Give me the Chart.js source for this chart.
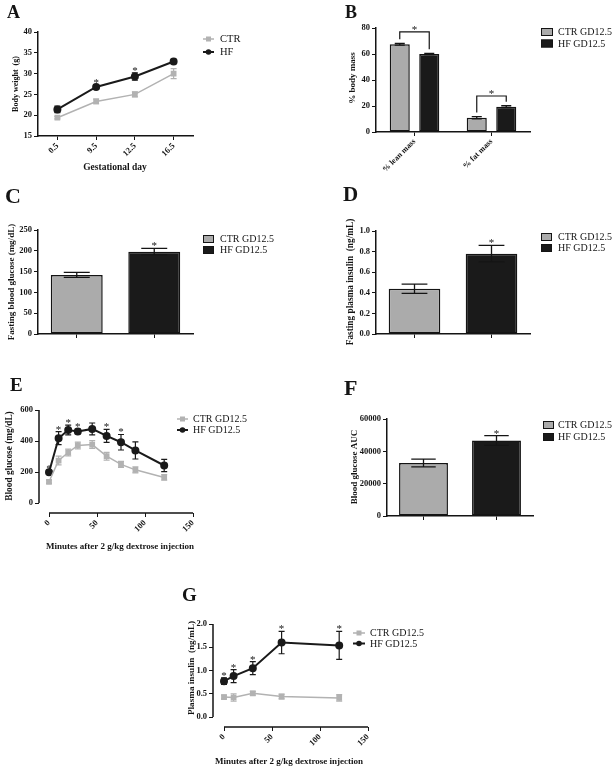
<!DOCTYPE html>
<html><head><meta charset="utf-8">
<script src="https://cdn.jsdelivr.net/npm/chart.js@4.4.1/dist/chart.umd.min.js"></script>
<style>
html,body{margin:0;padding:0;background:#fff}
body{width:616px;height:771px;overflow:hidden;position:relative}
canvas{position:absolute;left:0;top:0}
</style></head><body>
<canvas id="cA" width="616" height="771"></canvas>
<canvas id="cB" width="616" height="771"></canvas>
<canvas id="cC" width="616" height="771"></canvas>
<canvas id="cD" width="616" height="771"></canvas>
<canvas id="cE" width="616" height="771"></canvas>
<canvas id="cF" width="616" height="771"></canvas>
<canvas id="cG" width="616" height="771"></canvas>
<script>
// ---------- DATA ----------
// A: body weight
const gdDays = ['0.5', '9.5', '12.5', '16.5'];
const bwCTR = [19.4, 23.3, 25.0, 30.0];
const bwCTRerr = [0.3, 0.55, 0.6, 1.2];
const bwHF = [21.4, 26.8, 29.3, 32.9];
const bwHFerr = [0.8, 0.55, 0.9, 0.5];
const bwStars = [false, true, true, false];
// B: body composition
const compCats = ['% lean mass', '% fat mass'];
const compCTR = [67.5, 11.0];
const compCTRerr = [0.7, 0.9];
const compHF = [60.0, 19.5];
const compHFerr = [0.5, 0.7];
const compBracketY = [77, 27.7];
// groups for bar panels
const groups = ['CTR GD12.5', 'HF GD12.5'];
// C: fasting blood glucose
const fbgMean = [142, 198];
const fbgErr = [6, 8];
const fbgStars = [false, true];
// D: fasting plasma insulin
const fpiMean = [0.44, 0.78];
const fpiErr = [0.045, 0.08];
const fpiStars = [false, true];
// E: GTT
const gttMin = [0, 10, 20, 30, 45, 60, 75, 90, 120];
const gttCTR = [137, 274, 326, 371, 377, 302, 249, 214, 165];
const gttCTRerr = [10, 28, 22, 22, 25, 25, 20, 20, 18];
const gttHF = [199, 418, 471, 461, 478, 433, 392, 339, 242];
const gttHFerr = [10, 42, 32, 15, 38, 42, 50, 55, 40];
const gttStars = [true, true, true, true, false, true, true, false, false];
// F: AUC
const aucMean = [32800, 46700];
const aucErr = [2400, 3000];
const aucStars = [false, true];
// G: insulin during GTT
const insMin = [0, 10, 30, 60, 120];
const insCTR = [0.43, 0.42, 0.51, 0.44, 0.41];
const insCTRerr = [0.04, 0.08, 0.04, 0.05, 0.07];
const insHF = [0.77, 0.88, 1.05, 1.60, 1.54];
const insHFerr = [0.07, 0.14, 0.14, 0.24, 0.30];
const insStars = [true, true, true, true, true];
// tick values
const gttYTicks = [0, 200, 400, 600];
const minXTicks = [0, 50, 100, 150];
const insYTicks = [0, 0.5, 1.0, 1.5, 2.0];

// ---------- STYLE ----------
const SERIF = '"Liberation Serif","Times New Roman",serif';
const INK = '#141414';
const CTR_LINE = '#b2b2b2';
const CTR_BAR = '#ababab';
const HF_COL = '#1a1a1a';
const TICK_SIZE = 8.5;
Chart.defaults.font.family = SERIF;
Chart.defaults.color = INK;

const DECO = {};

function drawErr(chart, o) {
  const ctx = chart.ctx, ys = chart.scales.y;
  ctx.save();
  chart.data.datasets.forEach((ds, di) => {
    const errs = o.err[di]; if (!errs) return;
    const meta = chart.getDatasetMeta(di);
    meta.data.forEach((el, i) => {
      const raw = ds.data[i];
      const v = (raw !== null && typeof raw === 'object') ? raw.y : raw;
      if (v == null || errs[i] == null) return;
      const e = errs[i];
      const x = el.x, yt = ys.getPixelForValue(v + e), yb = ys.getPixelForValue(v - e);
      const cw = o.capFrac ? el.width * o.capFrac / 2 : o.cap;
      ctx.strokeStyle = o.errColor[di]; ctx.lineWidth = o.errWidth;
      ctx.beginPath();
      ctx.moveTo(x, yt); ctx.lineTo(x, yb);
      ctx.moveTo(x - cw, yt); ctx.lineTo(x + cw, yt);
      ctx.moveTo(x - cw, yb); ctx.lineTo(x + cw, yb);
      ctx.stroke();
    });
  });
  ctx.restore();
}
function drawStars(chart, o) {
  if (!o.stars) return;
  const ctx = chart.ctx, ys = chart.scales.y;
  ctx.save();
  ctx.fillStyle = INK; ctx.font = (o.starSize || 11) + 'px ' + SERIF;
  ctx.textAlign = 'center'; ctx.textBaseline = 'alphabetic';
  chart.data.datasets.forEach((ds, di) => {
    const st = o.stars[di]; if (!st) return;
    const meta = chart.getDatasetMeta(di);
    meta.data.forEach((el, i) => {
      if (!st[i]) return;
      const raw = ds.data[i];
      const v = (raw !== null && typeof raw === 'object') ? raw.y : raw;
      const e = o.err[di] ? o.err[di][i] : 0;
      const yt = ys.getPixelForValue(v + e);
      ctx.fillText('*', el.x, yt + (o.starDy || 1));
    });
  });
  ctx.restore();
}
const decoPlugin = {
  id: 'deco',
  beforeDatasetsDraw(chart) { const o = DECO[chart.canvas.id]; if (o && o.errBefore) drawErr(chart, o); },
  afterDatasetsDraw(chart) { const o = DECO[chart.canvas.id]; if (o && !o.errBefore) drawErr(chart, o); },
  afterDraw(chart) {
    const o = DECO[chart.canvas.id]; if (!o) return;
    const ctx = chart.ctx, ca = chart.chartArea, ys = chart.scales.y, xs = chart.scales.x;
    drawStars(chart, o);
    ctx.save();
    // offset axes
    if (o.axes) {
      const a = o.axes;
      ctx.strokeStyle = INK; ctx.lineWidth = 1.5;
      ctx.beginPath();
      ctx.moveTo(ca.left, ys.getPixelForValue(a.y1)); ctx.lineTo(ca.left, ys.getPixelForValue(a.y0));
      ctx.moveTo(xs.getPixelForValue(a.x0), ca.bottom); ctx.lineTo(xs.getPixelForValue(a.x1), ca.bottom);
      ctx.stroke();
    }
    // brackets
    if (o.brackets) {
      const m0 = chart.getDatasetMeta(0), m1 = chart.getDatasetMeta(1);
      ctx.strokeStyle = INK; ctx.lineWidth = 1.2; ctx.fillStyle = INK;
      o.brackets.forEach(b => {
        const x0 = m0.data[b.cat].x, x1 = m1.data[b.cat].x;
        const yl = ys.getPixelForValue(b.y);
        const d0 = chart.data.datasets[0].data[b.cat] + o.err[0][b.cat];
        const d1 = chart.data.datasets[1].data[b.cat] + o.err[1][b.cat];
        const y0 = ys.getPixelForValue(d0) - 4, y1 = ys.getPixelForValue(d1) - 4;
        ctx.beginPath();
        ctx.moveTo(x0, y0); ctx.lineTo(x0, yl); ctx.lineTo(x1, yl); ctx.lineTo(x1, y1);
        ctx.stroke();
        ctx.font = '11px ' + SERIF; ctx.textAlign = 'center'; ctx.textBaseline = 'alphabetic';
        ctx.fillText('*', (x0 + x1) / 2, yl + 1);
      });
    }
    // legend
    if (o.legend) {
      const L = o.legend;
      L.items.forEach((it, k) => {
        const y = L.y + k * L.dy;
        if (L.kind === 'box') {
          ctx.fillStyle = it.color; ctx.fillRect(L.x, y - L.h / 2, L.w, L.h);
          ctx.strokeStyle = INK; ctx.lineWidth = 1; ctx.strokeRect(L.x + 0.5, y - L.h / 2 + 0.5, L.w - 1, L.h - 1);
        } else {
          ctx.strokeStyle = it.color; ctx.lineWidth = it.lw;
          ctx.beginPath(); ctx.moveTo(L.x, y); ctx.lineTo(L.x + L.w, y); ctx.stroke();
          ctx.fillStyle = it.color;
          const cx = L.x + L.w / 2;
          if (it.shape === 'rect') ctx.fillRect(cx - 2.5, y - 2.5, 5, 5);
          else { ctx.beginPath(); ctx.arc(cx, y, 2.8, 0, Math.PI * 2); ctx.fill(); }
        }
        ctx.fillStyle = INK; ctx.font = L.size + 'px ' + SERIF;
        ctx.textAlign = 'left'; ctx.textBaseline = 'middle';
        ctx.fillText(it.text, L.tx, y + 0.5);
      });
    }
    // titles
    ctx.fillStyle = INK;
    if (o.ytitle) {
      const t = o.ytitle;
      ctx.save(); ctx.translate(t.x, t.y); ctx.rotate(-Math.PI / 2);
      ctx.font = 'bold ' + t.size + 'px ' + SERIF; ctx.textAlign = 'center'; ctx.textBaseline = 'middle';
      ctx.fillText(t.text, 0, 0); ctx.restore();
    }
    if (o.xtitle) {
      const t = o.xtitle;
      ctx.font = 'bold ' + t.size + 'px ' + SERIF; ctx.textAlign = 'center'; ctx.textBaseline = 'middle';
      ctx.fillText(t.text, t.x, t.y);
    }
    if (o.letter) {
      const t = o.letter;
      ctx.font = 'bold ' + t.size + 'px ' + SERIF; ctx.textAlign = 'left'; ctx.textBaseline = 'alphabetic';
      ctx.fillText(t.t, t.x, t.y);
    }
    ctx.restore();
  }
};
Chart.register(decoPlugin);

// ---------- helpers ----------
function baseOptions(box, scales) {
  return {
    responsive: false, animation: false, events: [],
    layout: { padding: { left: box.L - box.yw, top: box.T, right: 616 - box.R, bottom: 771 - box.B - box.xh } },
    plugins: { legend: { display: false }, tooltip: { enabled: false } },
    scales
  };
}
function gridOpts() {
  return { drawOnChartArea: false, drawTicks: true, tickLength: 4, color: INK, lineWidth: 1, offset: false };
}
function yLinear(min, max, step, yw, fmt, ticksList, border) {
  const s = {
    type: 'linear', min, max,
    grid: gridOpts(),
    border: { display: border !== false, color: INK, width: 1.5 },
    ticks: { stepSize: step, color: INK, padding: 2, font: { family: SERIF, size: TICK_SIZE, weight: 'bold' } },
    afterFit: sc => { sc.width = yw; }
  };
  if (fmt) s.ticks.callback = fmt;
  if (ticksList) s.afterBuildTicks = sc => { sc.ticks = ticksList.map(v => ({ value: v })); };
  return s;
}
function xCategory(xh, rot, size) {
  return {
    type: 'category', offset: true,
    grid: gridOpts(),
    border: { display: true, color: INK, width: 1.5 },
    ticks: { minRotation: rot, maxRotation: rot, autoSkip: false, color: INK, padding: 1, font: { family: SERIF, size, weight: 'bold' } },
    afterFit: sc => { sc.height = xh; }
  };
}
function xLinear(min, max, xh, ticksList) {
  return {
    type: 'linear', min, max,
    grid: gridOpts(),
    border: { display: false },
    ticks: { minRotation: 45, maxRotation: 45, autoSkip: false, color: INK, padding: 1, font: { family: SERIF, size: TICK_SIZE, weight: 'bold' }, callback: v => String(v) },
    afterBuildTicks: sc => { sc.ticks = ticksList.map(v => ({ value: v })); },
    afterFit: sc => { sc.height = xh; }
  };
}
function barSingle(id, box, yScale, mean, err, stars, extra) {
  DECO[id] = Object.assign({
    err: [err], errColor: [INK], errWidth: 1.3, capFrac: 0.5, stars: [stars], starDy: 1,
    legend: { kind: 'box', x: extra.lx, w: 11, h: 8, tx: extra.tx, y: extra.ly, dy: extra.ldy, size: 10,
      items: groups.map((g, i) => ({ text: g, color: [CTR_BAR, HF_COL][i] })) }
  }, extra.deco);
  new Chart(document.getElementById(id), {
    type: 'bar',
    data: { labels: ['', ''], datasets: [{ data: mean, backgroundColor: [CTR_BAR, HF_COL], borderColor: INK, borderWidth: 1.5, borderSkipped: false, categoryPercentage: 1, barPercentage: 0.67 }] },
    options: baseOptions(box, { x: xCategory(box.xh, 0, 8), y: yScale })
  });
}

// ---------- A ----------
DECO.cA = {
  err: [bwCTRerr, bwHFerr], errColor: [CTR_LINE, HF_COL], errWidth: 1.2, cap: 3, errBefore: true,
  stars: [null, bwStars], starDy: 0,
  legend: { kind: 'line', x: 203, w: 11, tx: 220, y: 39, dy: 13, size: 10.5,
    items: [{ text: 'CTR', color: CTR_LINE, shape: 'rect', lw: 1.5 }, { text: 'HF', color: HF_COL, shape: 'circle', lw: 2 }] },
  ytitle: { text: 'Body weight  (g)', x: 16, y: 84, size: 8 },
  xtitle: { text: 'Gestational day', x: 115, y: 168, size: 9.5 },
  letter: { t: 'A', x: 7, y: 18, size: 18 }
};
new Chart(document.getElementById('cA'), {
  type: 'line',
  data: { labels: gdDays, datasets: [
    { label: 'CTR', data: bwCTR, borderColor: CTR_LINE, backgroundColor: CTR_LINE, pointStyle: 'rect', pointRadius: 3, borderWidth: 1.5 },
    { label: 'HF', data: bwHF, borderColor: HF_COL, backgroundColor: HF_COL, pointStyle: 'circle', pointRadius: 3, borderWidth: 2 }
  ] },
  options: baseOptions({ L: 38, T: 32, R: 193, B: 136, yw: 30, xh: 40 }, {
    x: xCategory(40, 45, TICK_SIZE), y: yLinear(15, 40, 5, 30)
  })
});

// ---------- B ----------
DECO.cB = {
  err: [compCTRerr, compHFerr], errColor: [INK, INK], errWidth: 1.3, capFrac: 0.5,
  brackets: compBracketY.map((y, i) => ({ cat: i, y })),
  legend: { kind: 'box', x: 541, w: 12, h: 8, tx: 558, y: 32, dy: 11.5, size: 10,
    items: groups.map((g, i) => ({ text: g, color: [CTR_BAR, HF_COL][i] })) },
  ytitle: { text: '% body mass', x: 353, y: 78, size: 9 },
  letter: { t: 'B', x: 345, y: 18, size: 18 }
};
new Chart(document.getElementById('cB'), {
  type: 'bar',
  data: { labels: compCats, datasets: [
    { label: groups[0], data: compCTR, backgroundColor: CTR_BAR, borderColor: INK, borderWidth: 1.5, borderSkipped: false, categoryPercentage: 0.766, barPercentage: 0.68 },
    { label: groups[1], data: compHF, backgroundColor: HF_COL, borderColor: INK, borderWidth: 1.5, borderSkipped: false, categoryPercentage: 0.766, barPercentage: 0.68 }
  ] },
  options: baseOptions({ L: 376, T: 28, R: 530, B: 132, yw: 30, xh: 50 }, {
    x: xCategory(50, 45, 8), y: yLinear(0, 80, 20, 30)
  })
});

// ---------- C ----------
barSingle('cC', { L: 38, T: 230, R: 193, B: 334, yw: 30, xh: 20 }, yLinear(0, 250, 50, 30), fbgMean, fbgErr, fbgStars,
  { lx: 203, tx: 220, ly: 239, ldy: 11, deco: {
    ytitle: { text: 'Fasting blood glucose (mg/dL)', x: 12, y: 282, size: 9 },
    letter: { t: 'C', x: 5, y: 203, size: 22 } } });

// ---------- D ----------
barSingle('cD', { L: 376, T: 231, R: 530, B: 334, yw: 30, xh: 20 }, yLinear(0, 1.0, 0.2, 30, v => v.toFixed(1)), fpiMean, fpiErr, fpiStars,
  { lx: 541, tx: 558, ly: 237, ldy: 11, deco: {
    ytitle: { text: 'Fasting plasma insulin  (ng/mL)', x: 351, y: 282, size: 9.3 },
    letter: { t: 'D', x: 343, y: 201, size: 21 } } });

// ---------- E ----------
DECO.cE = {
  err: [gttCTRerr, gttHFerr], errColor: [CTR_LINE, HF_COL], errWidth: 1.2, cap: 3, errBefore: true,
  stars: [null, gttStars], starDy: 0,
  axes: { y0: 0, y1: 600, x0: 0, x1: 150 },
  legend: { kind: 'line', x: 177, w: 11, tx: 193, y: 419, dy: 11, size: 10,
    items: [{ text: groups[0], color: CTR_LINE, shape: 'rect', lw: 1.5 }, { text: groups[1], color: HF_COL, shape: 'circle', lw: 2 }] },
  ytitle: { text: 'Blood glucose (mg/dL)', x: 10, y: 456, size: 9.3 },
  xtitle: { text: 'Minutes after 2 g/kg dextrose injection', x: 120, y: 547, size: 9 },
  letter: { t: 'E', x: 10, y: 391, size: 19 }
};
new Chart(document.getElementById('cE'), {
  type: 'scatter',
  data: { datasets: [
    { label: groups[0], data: gttMin.map((t, i) => ({ x: t, y: gttCTR[i] })), showLine: true, borderColor: CTR_LINE, backgroundColor: CTR_LINE, pointStyle: 'rect', pointRadius: 3, borderWidth: 1.5 },
    { label: groups[1], data: gttMin.map((t, i) => ({ x: t, y: gttHF[i] })), showLine: true, borderColor: HF_COL, backgroundColor: HF_COL, pointStyle: 'circle', pointRadius: 3, borderWidth: 2 }
  ] },
  options: baseOptions({ L: 39, T: 410, R: 193, B: 513, yw: 30, xh: 30 }, {
    x: xLinear(-10.42, 150, 30, minXTicks), y: yLinear(-64.5, 600, 200, 30, v => String(v), gttYTicks, false)
  })
});

// ---------- F ----------
barSingle('cF', { L: 387, T: 419, R: 533, B: 516, yw: 40, xh: 20 }, yLinear(0, 60000, 20000, 40, v => String(v)), aucMean, aucErr, aucStars,
  { lx: 543, tx: 558, ly: 425, ldy: 12, deco: {
    ytitle: { text: 'Blood glucose AUC', x: 355, y: 467, size: 9 },
    letter: { t: 'F', x: 344, y: 395, size: 22 } } });

// ---------- G ----------
DECO.cG = {
  err: [insCTRerr, insHFerr], errColor: [CTR_LINE, HF_COL], errWidth: 1.2, cap: 3, errBefore: true,
  stars: [null, insStars], starDy: 0,
  axes: { y0: 0, y1: 2, x0: 0, x1: 150 },
  legend: { kind: 'line', x: 353, w: 12, tx: 370, y: 633, dy: 10.5, size: 10,
    items: [{ text: groups[0], color: CTR_LINE, shape: 'rect', lw: 1.5 }, { text: groups[1], color: HF_COL, shape: 'circle', lw: 2 }] },
  ytitle: { text: 'Plasma insulin  (ng/mL)', x: 192, y: 668, size: 9.2 },
  xtitle: { text: 'Minutes after 2 g/kg dextrose injection', x: 289, y: 762, size: 9 },
  letter: { t: 'G', x: 182, y: 601, size: 19 }
};
new Chart(document.getElementById('cG'), {
  type: 'scatter',
  data: { datasets: [
    { label: groups[0], data: insMin.map((t, i) => ({ x: t, y: insCTR[i] })), showLine: true, borderColor: CTR_LINE, backgroundColor: CTR_LINE, pointStyle: 'rect', pointRadius: 3, borderWidth: 1.5 },
    { label: groups[1], data: insMin.map((t, i) => ({ x: t, y: insHF[i] })), showLine: true, borderColor: HF_COL, backgroundColor: HF_COL, pointStyle: 'circle', pointRadius: 3, borderWidth: 2 }
  ] },
  options: baseOptions({ L: 213, T: 624, R: 368, B: 727, yw: 30, xh: 30 }, {
    x: xLinear(-11.46, 150, 30, minXTicks), y: yLinear(-0.215, 2, 0.5, 30, v => v.toFixed(1), insYTicks, false)
  })
});
</script>
</body></html>
